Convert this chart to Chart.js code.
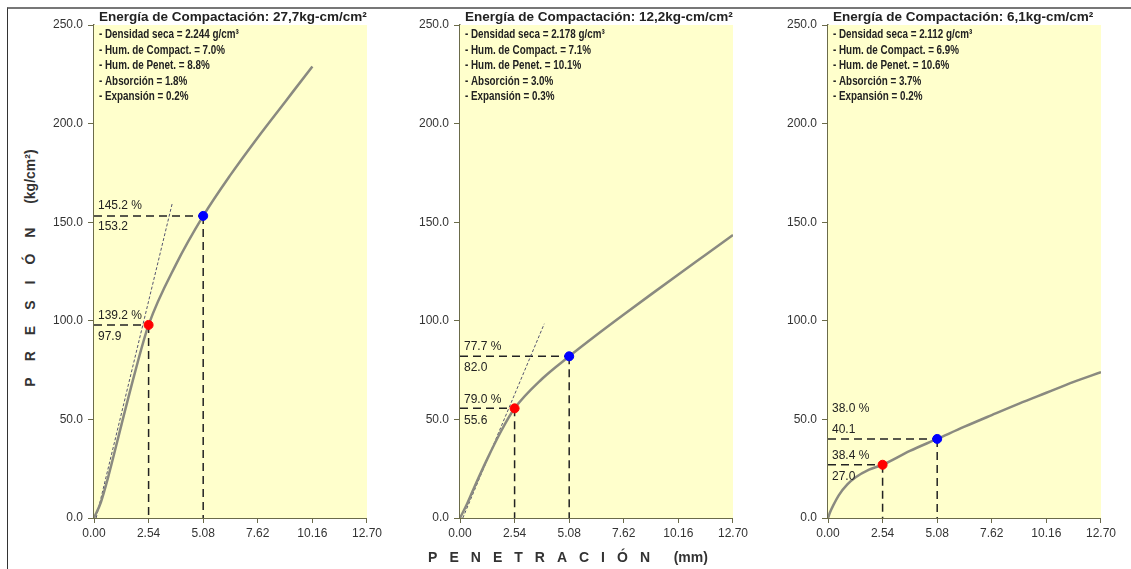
<!DOCTYPE html>
<html><head><meta charset="utf-8">
<script src="https://cdn.jsdelivr.net/npm/chart.js@4"></script>
<style>
html,body{margin:0;padding:0;background:#fff;}
body{width:1131px;height:569px;position:relative;overflow:hidden;font-family:"Liberation Sans",Arial,sans-serif;}
.frame{position:absolute;left:7px;top:7px;width:1124px;height:562px;border-top:2px solid #777;border-left:1.5px solid #333;box-sizing:border-box;}
canvas{position:absolute;top:0;}
#ytitle{position:absolute;left:30px;top:268px;transform:translate(-50%,-50%) rotate(-90deg);white-space:nowrap;font-weight:bold;font-size:14px;color:#333;}
#xtitle{position:absolute;left:568px;top:557px;transform:translate(-50%,-50%);white-space:nowrap;font-weight:bold;font-size:14px;color:#333;}
#ytitle .sp{letter-spacing:16px;}
#xtitle .sp{letter-spacing:12px;}
</style></head><body>
<div class="frame"></div>
<canvas id="c0" width="345" height="550" style="left:40px"></canvas>
<canvas id="c1" width="345" height="550" style="left:406px"></canvas>
<canvas id="c2" width="345" height="550" style="left:774px"></canvas>
<div id="ytitle"><span class="sp">PRESIÓN</span>&nbsp;&nbsp;(kg/cm²)</div>
<div id="xtitle"><span class="sp">PENETRACIÓN</span>&nbsp;&nbsp;&nbsp;(mm)</div>
<script>
// ---- data ----
const xTicks = [0, 2.54, 5.08, 7.62, 10.16, 12.70];
const yMax = 250;

const energias = ["27,7kg-cm/cm²", "12,2kg-cm/cm²", "6,1kg-cm/cm²"];
const densidad = ["2.244", "2.178", "2.112"];
const humCompact = ["7.0", "7.1", "6.9"];
const humPenet = ["8.8", "10.1", "10.6"];
const absorcion = ["1.8", "3.0", "3.7"];
const expansion = ["0.2", "0.3", "0.2"];

const pen1 = [0, 0.32, 0.64, 1.27, 1.91, 2.54, 3.81, 5.08, 6.35, 7.62, 8.89, 10.16];
const pres1 = [0, 8, 20, 47, 74, 97.9, 128.5, 153.2, 174, 193, 211, 229];
const pen2 = [0, 0.32, 0.64, 1.27, 1.91, 2.54, 3.81, 5.08, 6.35, 7.62, 8.89, 10.16, 11.43, 12.70];
const pres2 = [0, 7, 15, 30, 44, 55.6, 70.5, 82.0, 92.8, 103.2, 113.4, 123.5, 133.5, 143.5];
const pen3 = [0, 0.1, 0.25, 0.5, 0.9, 1.27, 1.91, 2.54, 3.81, 5.08, 6.35, 7.62, 8.89, 10.16, 11.43, 12.70];
const pres3 = [0, 3, 6.5, 11.5, 17, 20.5, 24.5, 27.0, 34, 40.1, 46.3, 52.2, 58, 63.5, 69, 74];

const tanX = [[0.1, 3.65], [0.13, 3.92], null];
const tanY = [[0, 160], [0, 98.5], null];

const pres254 = [97.9, 55.6, 27.0];
const pres508 = [153.2, 82.0, 40.1];
const cbr254 = ["139.2 %", "79.0 %", "38.4 %"];
const cbr508 = ["145.2 %", "77.7 %", "38.0 %"];

const pens = [pen1, pen2, pen3];
const press = [pres1, pres2, pres3];

// ---- drawing ----
const AXIS = '#6b6b4a';
const pts = (xs, ys) => xs.map((x, i) => ({x, y: ys[i]}));

function makeChart(i) {
  const ds = [];
  ds.push({label:'curva', data: pts(pens[i], press[i]), showLine:true, borderColor:'#8a8a80', borderWidth:2.5, pointRadius:0, cubicInterpolationMode:'monotone', order:2});
  if (tanX[i]) ds.push({label:'tangente', data: pts(tanX[i], tanY[i]), showLine:true, borderColor:'#555570', borderWidth:1, borderDash:[3,2], pointRadius:0, order:3});
  ds.push({label:'p254', data:[{x:2.54, y:pres254[i]}], pointRadius:4.5, pointBackgroundColor:'#ff0000', pointBorderColor:'#ff0000', order:0});
  ds.push({label:'p508', data:[{x:5.08, y:pres508[i]}], pointRadius:4.5, pointBackgroundColor:'#0000ff', pointBorderColor:'#0000ff', order:0});

  const plug = {
    id:'deco'+i,
    beforeDatasetsDraw(chart){
      const {ctx, chartArea:a, scales:{x, y}} = chart;
      ctx.save();
      ctx.fillStyle = '#ffffcc';
      ctx.fillRect(a.left, a.top, a.right-a.left, a.bottom-a.top);
      ctx.strokeStyle = '#222'; ctx.lineWidth = 1.5; ctx.setLineDash([8,5]);
      [[2.54, pres254[i]], [5.08, pres508[i]]].forEach(([px, py]) => {
        const X = x.getPixelForValue(px), Y = y.getPixelForValue(py);
        ctx.beginPath(); ctx.moveTo(a.left, Y); ctx.lineTo(X, Y); ctx.stroke();
        ctx.beginPath(); ctx.moveTo(X, Y); ctx.lineTo(X, a.bottom); ctx.stroke();
      });
      ctx.restore();
    },
    afterDraw(chart){
      const {ctx, chartArea:a, scales:{y}} = chart;
      ctx.save();
      ctx.fillStyle = '#222';
      ctx.textBaseline = 'middle';
      ctx.font = 'bold 13.5px "Liberation Sans", Arial';
      ctx.fillText('Energía de Compactación: ' + energias[i], a.left + 5, 17);
      const lines = ['- Densidad seca = ' + densidad[i] + ' g/cm³', '- Hum. de Compact. = ' + humCompact[i] + '%', '- Hum. de Penet. = ' + humPenet[i] + '%', '- Absorción = ' + absorcion[i] + '%', '- Expansión = ' + expansion[i] + '%'];
      ctx.save();
      ctx.translate(a.left + 5, 0);
      ctx.scale(0.82, 1);
      ctx.font = 'bold 12px "Liberation Sans", Arial';
      lines.forEach((t, k) => ctx.fillText(t, 0, 35 + k * 15.5));
      ctx.restore();
      ctx.font = '12px "Liberation Sans", Arial';
      const lx = a.left + 4;
      const Y254 = y.getPixelForValue(pres254[i]), Y508 = y.getPixelForValue(pres508[i]);
      if (i < 2) {
        ctx.fillText(cbr508[i], lx, Y508 - 10);
        ctx.fillText(pres508[i].toFixed(1), lx, Y508 + 11);
      } else {
        ctx.fillText(cbr508[i], lx, Y508 - 30);
        ctx.fillText(pres508[i].toFixed(1), lx, Y508 - 9);
      }
      ctx.fillText(cbr254[i], lx, Y254 - 9);
      ctx.fillText(pres254[i].toFixed(1), lx, Y254 + 12);
      ctx.restore();
    }
  };

  new Chart(document.getElementById('c'+i), {
    type:'scatter',
    data:{datasets:ds},
    options:{
      responsive:false, animation:false,
      layout:{padding:{top:25, right:13, left:0, bottom:0}},
      plugins:{legend:{display:false}, tooltip:{enabled:false}},
      scales:{
        x:{type:'linear', min:0, max:12.7,
          afterBuildTicks(s){ s.ticks = xTicks.map(v => ({value:v})); },
          afterFit(s){ s.height = 32; },
          border:{color:AXIS, width:2},
          grid:{drawOnChartArea:false, drawTicks:true, tickLength:5, color:AXIS},
          ticks:{color:'#333', padding:3, maxRotation:0, font:{family:'"Liberation Sans", Arial', size:12}, callback:v => Number(v).toFixed(2)}},
        y:{type:'linear', min:0, max:yMax,
          afterFit(s){ s.width = 54; },
          border:{color:AXIS, width:1.5},
          grid:{drawOnChartArea:false, drawTicks:true, tickLength:6, color:AXIS},
          ticks:{color:'#333', stepSize:50, padding:5, font:{family:'"Liberation Sans", Arial', size:12}, callback:v => Number(v).toFixed(1)}}
      }
    },
    plugins:[plug]
  });
}
[0,1,2].forEach(makeChart);
</script>
</body></html>
